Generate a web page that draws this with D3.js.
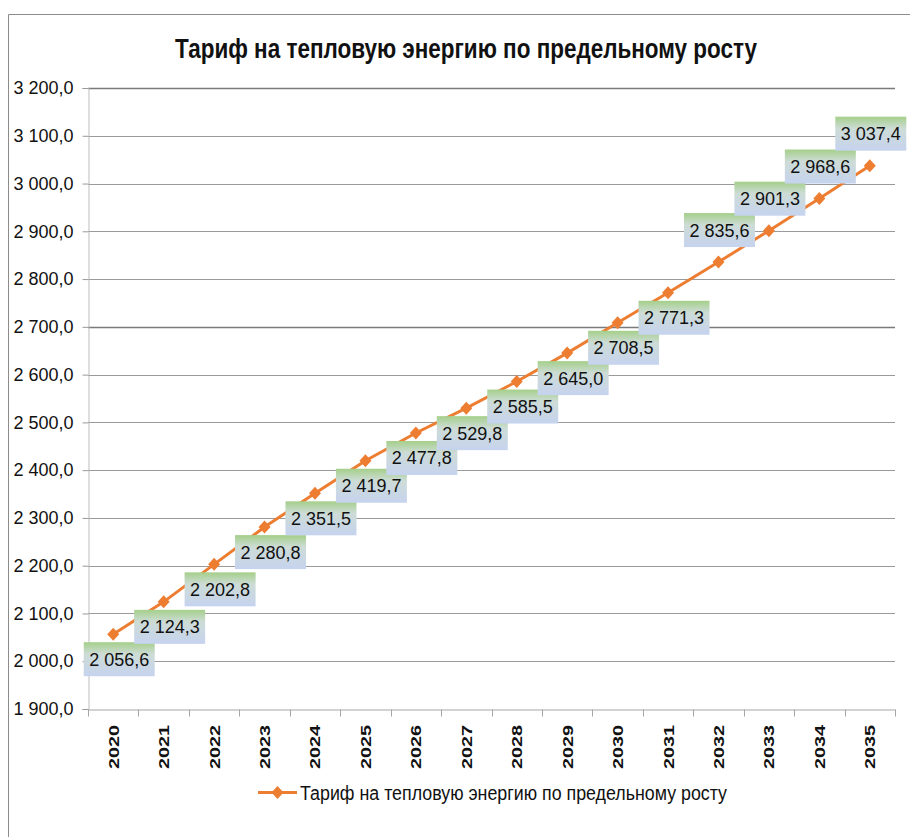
<!DOCTYPE html>
<html><head><meta charset="utf-8">
<script src="https://cdn.jsdelivr.net/npm/d3@7/dist/d3.min.js"></script>
<style>body{margin:0;background:#fff}svg{display:block}</style>
</head><body>
<svg id="c" width="910" height="837"></svg>
<script>
const title = "Тариф на тепловую энергию по предельному росту";
const seriesName = "Тариф на тепловую энергию по предельному росту";
const years = ["2020","2021","2022","2023","2024","2025","2026","2027","2028","2029","2030","2031","2032","2033","2034","2035"];
const values = [2056.6,2124.3,2202.8,2280.8,2351.5,2419.7,2477.8,2529.8,2585.5,2645.0,2708.5,2771.3,2835.6,2901.3,2968.6,3037.4];
const yTicks = [1900,2000,2100,2200,2300,2400,2500,2600,2700,2800,2900,3000,3100,3200];
const labelSide = ["below","below","below","below","below","below","below","below","below","below","below","below","above","above","above","above"];

const locale = d3.formatLocale({decimal:",", thousands:"\u00a0", grouping:[3], currency:["",""]});
const fmt = locale.format(",.1f");

const svg = d3.select("#c");
const font = "'Liberation Sans', Arial, sans-serif";
const narrow = "'Liberation Sans Narrow', 'Liberation Sans', Arial, sans-serif";
const m = {left:88, right:895, top:88, bottom:709};

// outer border
svg.append("path").attr("d","M8.5,837 L8.5,14.5 L910,14.5").attr("fill","none").attr("stroke","#8c8c8c").attr("stroke-width",1);

const x = d3.scaleBand().domain(years).range([m.left, m.right]);
const y = d3.scaleLinear().domain([1900,3200]).range([m.bottom, m.top]);

const defs = svg.append("defs");
const g = defs.append("linearGradient").attr("id","lblgrad").attr("x1",0).attr("y1",0).attr("x2",0).attr("y2",1);
g.append("stop").attr("offset","0").attr("stop-color","#a5cf8a");
g.append("stop").attr("offset","0.35").attr("stop-color","#cddcd6");
g.append("stop").attr("offset","1").attr("stop-color","#c6d3ef");

// gridlines
svg.append("g").selectAll("line").data(yTicks.filter(t=>t>1900)).join("line")
  .attr("x1",m.left).attr("x2",m.right)
  .attr("y1",d=>Math.round(y(d))+0.5).attr("y2",d=>Math.round(y(d))+0.5)
  .attr("stroke",d=>(d===3200||d===2700)?"#7a7a7a":"#9a9a9a")
  .attr("stroke-width",d=>(d===3200||d===2700)?1.6:1);

// y axis
const yAxis = d3.axisLeft(y).tickValues(yTicks).tickSize(6).tickPadding(9).tickFormat(fmt);
const ya = svg.append("g").attr("transform",`translate(${m.left+0.5},0)`).call(yAxis);
ya.select(".domain").attr("stroke","#bdbdbd");
ya.selectAll(".tick line").attr("stroke","#9a9a9a");
ya.selectAll(".tick text").attr("font-family",font).attr("font-size",18).attr("fill","#111");

// x axis
const xa = svg.append("g").attr("transform",`translate(0,${m.bottom+0.5})`).call(d3.axisBottom(x).tickSize(0).tickFormat(""));
xa.select(".domain").attr("stroke","#a6a6a6");
xa.selectAll(".tick").remove();
const bounds = d3.range(years.length+1).map(i => m.left + i*x.step());
xa.selectAll("line.tk").data(bounds).join("line").attr("class","tk")
  .attr("x1",d=>Math.round(d)+0.5).attr("x2",d=>Math.round(d)+0.5).attr("y1",0).attr("y2",7).attr("stroke","#a6a6a6");
svg.append("g").selectAll("text").data(years).join("text")
  .attr("transform",d=>`translate(${x(d)+x.bandwidth()/2+5.5},${725}) rotate(-90)`)
  .attr("text-anchor","end")
  .attr("font-family",font).attr("font-weight","bold").attr("font-size",15).attr("fill","#111")
  .attr("textLength",44).attr("lengthAdjust","spacingAndGlyphs")
  .text(d=>d);

// line
const cx = d => x(d)+x.bandwidth()/2;
const line = d3.line().x((d,i)=>cx(years[i])).y(d=>y(d));
svg.append("path").datum(values).attr("d",line).attr("fill","none").attr("stroke","#ed7d31").attr("stroke-width",3);
const diamond = "M0,-6.5L6,0L0,6.5L-6,0Z";
svg.append("g").selectAll("path").data(values).join("path")
  .attr("d",diamond).attr("transform",(d,i)=>`translate(${cx(years[i])},${y(d)})`).attr("fill","#ed7d31");

// data labels
const bw = 71, bh = 34;
const lg = svg.append("g");
values.forEach((v,i)=>{
  const px = cx(years[i]), py = y(v);
  const c = labelSide[i]==="below" ? [px+6, py+25] : [px+1, py-32];
  lg.append("rect").attr("x",c[0]-bw/2).attr("y",c[1]-bh/2).attr("width",bw).attr("height",bh).attr("fill","url(#lblgrad)");
  lg.append("text").attr("x",c[0]).attr("y",c[1]+6.5).attr("text-anchor","middle")
    .attr("font-family",font).attr("font-size",18).attr("fill","#111").text(fmt(v));
});

// title
svg.append("text").attr("x",466).attr("y",58).attr("text-anchor","middle").attr("font-family",narrow).attr("font-weight","bold")
  .attr("font-size",28).attr("fill","#111").attr("textLength",582).attr("lengthAdjust","spacingAndGlyphs").text(title);

// legend
const leg = svg.append("g");
leg.append("line").attr("x1",258).attr("x2",297).attr("y1",792.5).attr("y2",792.5).attr("stroke","#ed7d31").attr("stroke-width",3);
leg.append("path").attr("d",diamond).attr("transform","translate(277.5,792.5)").attr("fill","#ed7d31");
leg.append("text").attr("x",300).attr("y",800).attr("font-family",narrow).attr("font-size",20).attr("fill","#111")
  .attr("textLength",427).attr("lengthAdjust","spacingAndGlyphs").text(seriesName);
</script>
</body></html>
